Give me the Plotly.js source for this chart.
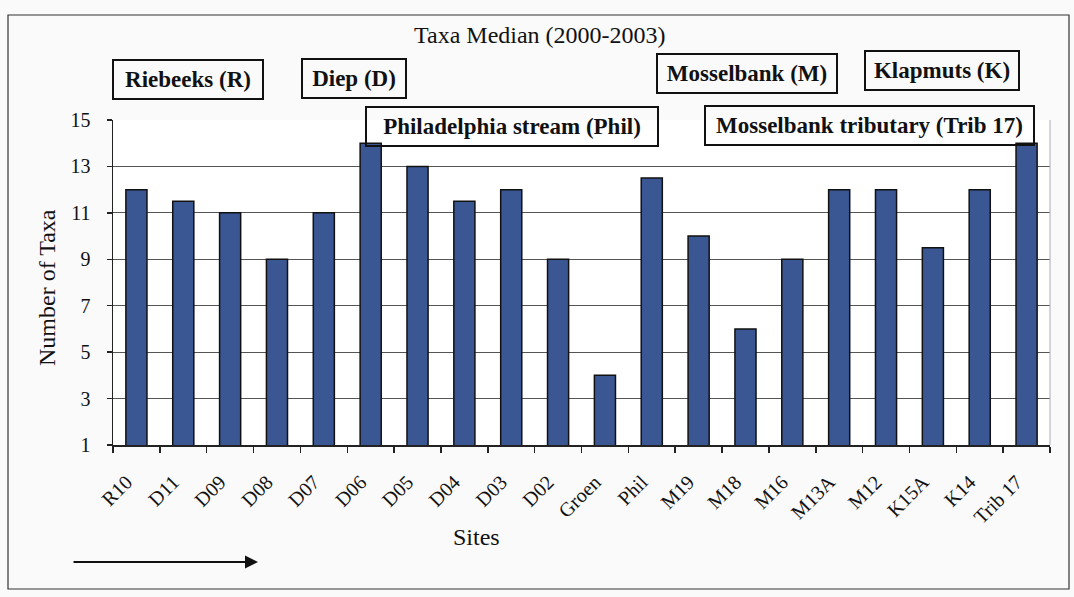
<!DOCTYPE html>
<html>
<head>
<meta charset="utf-8">
<script src="https://cdn.plot.ly/plotly-3.0.1.min.js"></script>
<style>html,body{margin:0;padding:0;background:#fafafa;}#chart{width:1074px;height:597px;}</style>
</head>
<body>
<div id="chart"></div>
<script>
const sites = ["R10","D11","D09","D08","D07","D06","D05","D04","D03","D02","Groen","Phil","M19","M18","M16","M13A","M12","K15A","K14","Trib 17"];
const taxaMedian = [12, 11.5, 11, 9, 11, 14, 13, 11.5, 12, 9, 4, 12.5, 10, 6, 9, 12, 12, 9.5, 12, 14];
const yTicks = [1, 3, 5, 7, 9, 11, 13, 15];
const chartTitle = "Taxa Median (2000-2003)";
const yTitle = "Number of Taxa";
const xTitle = "Sites";
const riverLabels = ["Riebeeks (R)", "Diep (D)", "Philadelphia stream (Phil)", "Mosselbank (M)", "Klapmuts (K)", "Mosselbank tributary (Trib 17)"];

const serif = "Liberation Serif";
// box geometry in pixels (left, top, right, bottom)
const boxes = [
  [114, 61, 262, 98],
  [303, 60, 405, 97],
  [367, 108, 657, 145],
  [658, 55, 836, 92],
  [866, 52, 1018, 89],
  [706, 107, 1033, 144]
];
const L = 113, R = 1050, T = 120, B = 445;
const px = x => (x - L) / (R - L);
const py = y => (B - y) / (B - T);

const annotations = [];
annotations.push({xref:'paper', yref:'paper', x: px(540), y: py(35), text: chartTitle, showarrow:false,
  font:{family: serif, size: 24, color:'#111'}, xanchor:'center', yanchor:'middle'});
annotations.push({xref:'paper', yref:'paper', x: px(47), y: py(288), text: yTitle, showarrow:false, textangle:-90,
  font:{family: serif, size: 24, color:'#111'}, xanchor:'center', yanchor:'middle'});
annotations.push({xref:'paper', yref:'paper', x: px(476), y: py(537), text: xTitle, showarrow:false,
  font:{family: serif, size: 24, color:'#111'}, xanchor:'center', yanchor:'middle'});
riverLabels.forEach((t, i) => {
  const b = boxes[i];
  annotations.push({xref:'paper', yref:'paper', x: px((b[0]+b[2])/2), y: py((b[1]+b[3])/2), text: t,
    showarrow:false, xanchor:'center', yanchor:'middle', width: b[2]-b[0], height: b[3]-b[1], borderpad:0,
    bordercolor:'#111', borderwidth:2, font:{family: serif, size: 23, weight:'bold', color:'#111'}, align:'center', valign:'middle'});
});
annotations.push({xref:'paper', yref:'paper', x: px(258), y: py(562), text:'', showarrow:true,
  ax: -186, ay: 0, arrowhead:2, arrowsize:1.3, arrowwidth:2, arrowcolor:'#111', standoff:0});

const trace = {
  type:'bar', x: sites, y: taxaMedian, base: 0,
  marker:{color:'#3a5794', line:{color:'#111', width:1.5}},
  hoverinfo:'x+y'
};

const layout = {
  width:1074, height:597,
  margin:{l:L, r:1074-R, t:T, b:597-B, pad:0},
  paper_bgcolor:'#fafafa', plot_bgcolor:'#ffffff',
  showlegend:false, bargap:0.55,
  xaxis:{type:'category', tickangle:-45, ticks:'outside', ticklen:6, tickcolor:'#222', tickwidth:1.5,
    tickson:'boundaries', showline:true, linecolor:'#222', linewidth:1.5, mirror:false, showgrid:false,
    ticklabelstandoff:16, ticklabelshift:-10,
    tickfont:{family: serif, size:20, color:'#111'}},
  yaxis:{range:[1,15], tickvals: yTicks, ticks:'outside', ticklen:5, tickcolor:'#222', tickwidth:1.5,
    showline:true, linecolor:'#222', linewidth:1.5, showgrid:true, gridcolor:'#555', gridwidth:1,
    zeroline:false, ticklabelstandoff:12,
    tickfont:{family: serif, size:20, color:'#111'}},
  shapes:[
    {type:'line', xref:'paper', yref:'paper', x0:1, x1:1, y0:0, y1:1, line:{color:'#aab', width:1}},
    {type:'rect', xref:'paper', yref:'paper', x0:px(8), x1:px(1069), y0:py(589), y1:py(15), line:{color:'#333', width:1.2}}
  ],
  annotations: annotations
};
Plotly.newPlot('chart', [trace], layout, {displayModeBar:false, staticPlot:true});
</script>
</body>
</html>
